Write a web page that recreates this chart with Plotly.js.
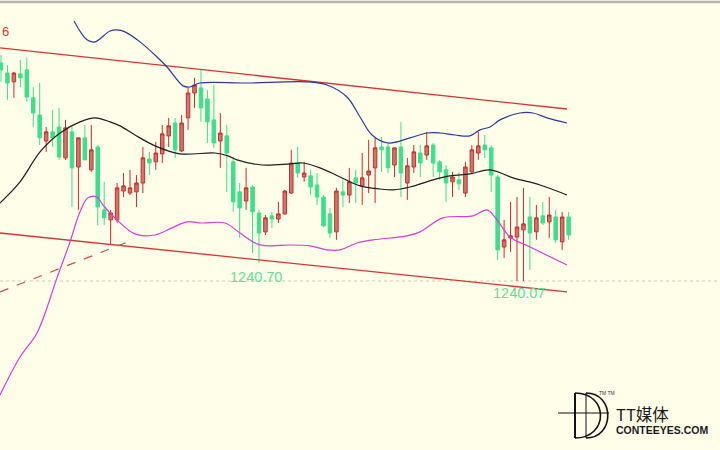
<!DOCTYPE html>
<html><head><meta charset="utf-8">
<script src="https://cdn.plot.ly/plotly-3.0.1.min.js"></script>
<style>html,body{margin:0;padding:0;background:#fefee9;}#chart{width:720px;height:450px;}</style>
</head><body><div id="chart"></div>
<script>
// candle index (one bar per period)
const bars = Array.from({length: 89}, (_, i) => i);
const openP = [1247.70,1247.35,1247.04,1247.32,1247.46,1246.48,1245.88,1244.97,1245.29,1245.46,
1244.38,1245.29,1244.06,1245.08,1243.96,1244.76,1242.56,1242.21,1242.21,1243.22,
1243.15,1243.19,1243.50,1244.34,1244.24,1244.52,1245.15,1245.60,1244.62,1245.78,
1246.65,1246.83,1246.44,1245.71,1244.97,1245.15,1244.24,1243.19,1242.87,1243.36,
1242.45,1241.79,1242.35,1242.24,1242.42,1243.15,1244.20,1243.71,1243.75,1243.43,
1243.01,1242.42,1241.79,1243.19,1243.08,1243.68,1243.40,1243.78,1244.03,1244.76,
1244.76,1244.13,1244.76,1243.50,1244.06,1244.55,1244.48,1244.83,1244.24,1243.96,
1243.54,1243.61,1243.15,1243.89,1244.55,1244.83,1244.73,1243.71,1241.26,1241.58,
1241.61,1241.86,1242.31,1241.79,1242.35,1242.14,1242.31,1241.44,1242.31];
const highP = [1247.98,1247.63,1247.39,1247.81,1247.88,1246.86,1247.00,1245.46,1246.06,1246.13,
1245.71,1245.53,1245.08,1245.53,1245.53,1244.83,1243.54,1242.56,1243.50,1243.85,
1243.96,1243.78,1244.76,1244.59,1244.94,1245.53,1245.78,1245.78,1245.88,1246.83,
1247.18,1247.46,1246.76,1246.93,1245.95,1245.53,1244.41,1243.50,1244.03,1243.43,
1242.56,1242.38,1242.49,1242.84,1243.26,1244.66,1244.76,1244.24,1243.96,1243.85,
1243.08,1242.63,1243.33,1243.61,1244.03,1243.96,1244.55,1245.01,1245.08,1245.11,
1244.90,1244.73,1245.64,1244.38,1244.83,1244.83,1245.29,1244.90,1244.31,1244.13,
1243.89,1243.89,1244.24,1244.83,1245.29,1245.18,1244.83,1243.78,1242.21,1242.84,
1243.01,1243.33,1243.01,1242.73,1242.84,1243.01,1242.56,1242.49,1242.49];
const lowP = [1247.04,1246.41,1246.48,1246.86,1246.34,1245.46,1244.83,1244.59,1244.76,1244.31,
1244.31,1242.66,1242.56,1244.31,1243.89,1242.03,1242.03,1241.33,1242.10,1243.01,
1243.08,1242.66,1243.15,1243.78,1243.96,1244.20,1244.76,1244.38,1244.59,1245.36,
1246.13,1245.64,1244.90,1244.73,1244.03,1243.19,1242.49,1241.58,1242.56,1241.05,
1240.70,1241.68,1241.93,1242.10,1242.38,1243.12,1243.68,1243.54,1243.08,1242.73,
1241.96,1241.58,1241.51,1242.66,1242.80,1242.80,1242.73,1243.15,1242.80,1243.89,
1243.85,1243.71,1243.01,1242.91,1243.85,1243.71,1244.31,1243.71,1243.61,1242.84,
1243.01,1243.26,1243.01,1243.85,1244.31,1244.38,1243.19,1240.81,1240.88,1241.09,
1240.07,1240.07,1240.46,1241.51,1242.03,1241.58,1241.40,1241.16,1241.51];
const closeP = [1247.46,1247.00,1247.35,1247.18,1246.51,1245.95,1245.08,1245.29,1245.08,1244.41,
1245.43,1244.03,1245.08,1244.31,1244.66,1242.66,1242.28,1242.45,1243.33,1243.40,
1243.33,1243.50,1244.38,1244.20,1244.55,1245.22,1245.50,1244.66,1245.60,1246.65,
1246.93,1246.13,1245.64,1244.90,1245.25,1244.55,1242.84,1242.63,1243.33,1242.49,
1241.75,1242.28,1242.24,1242.42,1243.22,1244.20,1243.85,1243.85,1243.36,1243.01,
1242.00,1241.75,1243.22,1243.08,1243.54,1243.50,1243.68,1243.92,1244.73,1244.66,
1244.03,1244.73,1243.85,1244.10,1244.59,1244.20,1244.80,1244.20,1243.89,1243.50,
1243.71,1243.47,1244.06,1244.66,1244.80,1244.66,1243.78,1241.16,1241.51,1241.65,
1241.96,1242.07,1241.75,1242.28,1242.10,1242.38,1241.51,1242.31,1241.68];

// Bollinger middle (black)
const midX = [-0.16,2.95,6.05,9.15,12.25,14.57,16.9,18.45,20.78,23.88,27.75,33.18,35.19,36.59,40.47,44.81,46.82,49.46,52.56,55.66,58.76,60.78,63.41,66.98,69.61,72.71,75.81,79.38,83.57,87.75];
const midY = [1242.80,1243.54,1244.59,1245.25,1245.64,1245.78,1245.64,1245.50,1245.18,1244.80,1244.52,1244.55,1244.45,1244.31,1244.13,1244.17,1244.20,1244.03,1243.71,1243.40,1243.29,1243.26,1243.36,1243.61,1243.75,1243.82,1243.96,1243.68,1243.43,1243.08];
// Bollinger upper (blue)
const upX = [11.32,13.33,14.57,16.9,17.98,19.22,21.55,24.19,25.74,28.22,29.3,30.85,38.14,47.44,50.54,53.64,55.66,57.52,60.0,63.41,66.05,68.06,70.39,72.71,74.26,75.81,77.36,80.47,82.48,84.65,87.75];
const upY = [1249.17,1248.51,1248.44,1248.82,1248.86,1248.79,1248.44,1247.91,1247.56,1246.90,1246.86,1247.00,1247.00,1247.04,1246.93,1246.51,1245.81,1245.18,1244.90,1245.08,1245.25,1245.25,1245.18,1245.15,1245.36,1245.46,1245.71,1245.95,1245.95,1245.78,1245.60];
// Bollinger lower (magenta)
const loX = [-0.16,2.95,5.58,8.68,10.7,12.25,13.49,14.88,15.81,17.98,20.78,23.88,26.51,28.84,31.16,34.73,37.05,39.69,41.71,44.81,47.91,50.54,52.56,55.19,57.67,62.95,64.96,68.53,73.18,75.35,76.9,78.91,82.02,87.75];
const loY = [1236.08,1237.41,1238.25,1240.18,1241.44,1242.49,1242.98,1243.01,1242.73,1242.21,1241.72,1241.68,1241.93,1242.14,1242.10,1242.10,1241.75,1241.37,1241.30,1241.33,1241.30,1241.16,1241.16,1241.40,1241.51,1241.65,1241.79,1242.28,1242.35,1242.56,1242.21,1241.61,1241.26,1240.63];
// trend channel and support
const chanX = [-0.16, 87.75];
const chanUpper = [1248.23, 1246.09];
const chanLower = [1241.75, 1239.69];
const supX = [-0.16, 20.47];
const supY = [1239.69, 1241.51];
const lowLevel = 1240.07;
const labels = [{x: 39.6, y: 1240.70, text: '1240.70', shift: -14}, {x: 80.3, y: 1240.07, text: '1240.07', shift: -12}];

const W = 720, H = 450;
const px = (x, y) => (x / W).toFixed(4) + ',' + (1 - y / H).toFixed(4);

const traces = [
  {type: 'candlestick', x: bars, open: openP, high: highP, low: lowP, close: closeP,
   increasing: {line: {color: '#cc2a2a', width: 1}, fillcolor: '#c47a6e'},
   decreasing: {line: {color: '#3ddf8c', width: 1}, fillcolor: '#3ddf8c'},
   whiskerwidth: 0, hoverinfo: 'skip'},
  {type: 'scatter', mode: 'lines', x: chanX, y: chanUpper, line: {color: '#d43535', width: 1.3}},
  {type: 'scatter', mode: 'lines', x: chanX, y: chanLower, line: {color: '#d43535', width: 1.3}},
  {type: 'scatter', mode: 'lines', x: supX, y: supY, line: {color: '#c25050', width: 1.2, dash: 'dash'}},
  {type: 'scatter', mode: 'lines', x: midX, y: midY, line: {color: '#1e1e1e', width: 1.2, shape: 'spline'}},
  {type: 'scatter', mode: 'lines', x: upX, y: upY, line: {color: '#2b3a96', width: 1.2, shape: 'spline'}},
  {type: 'scatter', mode: 'lines', x: loX, y: loY, line: {color: '#d23fd2', width: 1.2, shape: 'spline'}}
];

const annotations = labels.map(l => ({x: l.x, y: l.y, xref: 'x', yref: 'y', text: l.text, showarrow: false,
  yanchor: 'middle', yshift: l.shift, font: {family: 'Liberation Sans, Arial', size: 14.5, color: '#66dc98'}}));
annotations.push({xref: 'paper', yref: 'paper', x: 0, y: 1 - 22 / H, xanchor: 'left', yanchor: 'top', showarrow: false,
  text: '6', font: {family: 'Liberation Sans, Arial', size: 13, color: '#d43535'}});
annotations.push({xref: 'paper', yref: 'paper', x: 614 / W, y: 1 - 414 / H, xanchor: 'left', yanchor: 'middle', showarrow: false,
  text: 'TT媒体', font: {family: 'Noto Sans CJK SC', size: 16.5, color: '#1a1a1a'}});
annotations.push({xref: 'paper', yref: 'paper', x: 614 / W, y: 1 - 430 / H, xanchor: 'left', yanchor: 'middle', showarrow: false,
  text: '<b>CONTEEYES.COM</b>', font: {family: 'Liberation Sans, Arial', size: 10.5, color: '#1a1a1a'}});
annotations.push({xref: 'paper', yref: 'paper', x: 597 / W, y: 1 - 393 / H, xanchor: 'left', yanchor: 'middle', showarrow: false,
  text: 'TM TM', font: {family: 'Liberation Sans, Arial', size: 5, color: '#333'}});

const shapes = [
  {type: 'line', xref: 'paper', yref: 'paper', x0: 0, x1: 1, y0: 1 - 2 / H, y1: 1 - 2 / H, line: {color: '#b4b4aa', width: 2.5}},
  {type: 'line', xref: 'paper', yref: 'y', x0: 0, x1: 1, y0: lowLevel, y1: lowLevel, line: {color: '#c8c8bc', width: 1, dash: 'dot'}, layer: 'below'},
  {type: 'line', xref: 'paper', yref: 'paper', x0: 575 / W, x1: 575 / W, y0: 1 - 393 / H, y1: 1 - 438 / H, line: {color: '#111', width: 2}},
  {type: 'line', xref: 'paper', yref: 'paper', x0: 586 / W, x1: 586 / W, y0: 1 - 393 / H, y1: 1 - 438 / H, line: {color: '#111', width: 1}},
  {type: 'line', xref: 'paper', yref: 'paper', x0: 558 / W, x1: 609 / W, y0: 1 - 413 / H, y1: 1 - 413 / H, line: {color: '#111', width: 1}},
  {type: 'path', xref: 'paper', yref: 'paper', path: 'M' + px(575, 393) + ' C' + px(609, 393) + ' ' + px(609, 438) + ' ' + px(575, 438), line: {color: '#111', width: 1.6}},
  {type: 'path', xref: 'paper', yref: 'paper', path: 'M' + px(586, 393) + ' C' + px(615, 393) + ' ' + px(615, 438) + ' ' + px(586, 438), line: {color: '#111', width: 1.6}}
];

const layout = {
  width: W, height: H, margin: {l: 0, r: 0, t: 0, b: 0},
  paper_bgcolor: '#fefee9', plot_bgcolor: '#fefee9', showlegend: false,
  xaxis: {range: [-0.155, 111.47], visible: false, rangeslider: {visible: false}, fixedrange: true},
  yaxis: {range: [1234.155, 1249.905], visible: false, fixedrange: true},
  boxgap: 0.22,
  annotations: annotations, shapes: shapes
};
Plotly.newPlot('chart', traces, layout, {displayModeBar: false, staticPlot: true});
</script></body></html>
